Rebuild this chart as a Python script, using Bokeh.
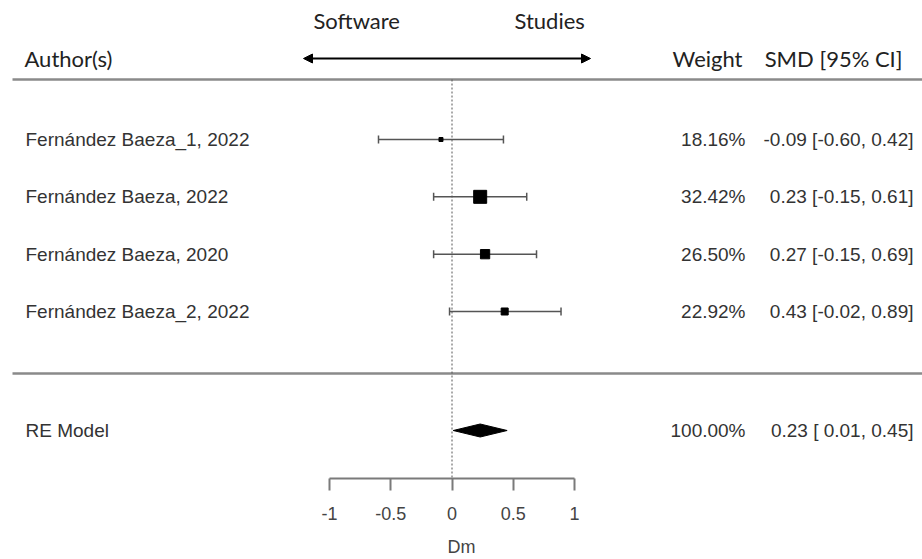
import numpy as np
from bokeh.plotting import figure
from bokeh.models import Range1d, LinearAxis, FixedTicker, Arrow, NormalHead, ColumnDataSource
from bokeh.core.properties import value
from bokeh.embed import file_html
from bokeh.resources import INLINE

# ---- data ----
studies = ["Fernández Baeza_1, 2022", "Fernández Baeza, 2022",
           "Fernández Baeza, 2020", "Fernández Baeza_2, 2022"]
smd = [-0.09, 0.23, 0.27, 0.43]
ci_lo = [-0.60, -0.15, -0.15, -0.02]
ci_hi = [0.42, 0.61, 0.69, 0.89]
weights = [18.16, 32.42, 26.50, 22.92]
rows = [4, 3, 2, 1]
re_label = "RE Model"
re_est, re_lo, re_hi, re_weight = 0.23, 0.01, 0.45, 100.00
ticks = [-1, -0.5, 0, 0.5, 1]

# ---- layout helpers (pixel -> data) ----
W, H = 922, 559
FRAME_H = 478
PX_PER_X = 122.5
X0_PX = 451.5
PX_PER_ROW = 57.33
ROW1_PX = 311


def px2x(px):
    return (px - X0_PX) / PX_PER_X


def py2y(py):
    return 1 + (ROW1_PX - py) / PX_PER_ROW


x_start, x_end = px2x(0), px2x(W)
y_lo, y_hi = py2y(FRAME_H), py2y(0)
re_row = py2y(430)

p = figure(width=W, height=H, output_backend="svg", toolbar_location=None,
           x_range=Range1d(x_start, x_end), y_range=Range1d(y_lo, y_hi),
           x_axis_location=None, y_axis_location=None,
           min_border_left=0, min_border_right=0, min_border_top=0,
           min_border_bottom=H - FRAME_H)
p.outline_line_color = None
p.grid.visible = False
p.background_fill_color = "white"

# axis
ax = LinearAxis(ticker=FixedTicker(ticks=ticks), bounds=(-1, 1), axis_label="Dm")
ax.major_label_overrides = {-1: "-1", -0.5: "-0.5", 0: "0", 0.5: "0.5", 1: "1"}
ax.axis_line_color = "#7a7a7a"
ax.axis_line_width = 2
ax.major_tick_line_color = "#7a7a7a"
ax.major_tick_line_width = 2
ax.major_tick_in = 0
ax.major_tick_out = 12
ax.minor_tick_line_color = None
ax.major_label_text_font = "Liberation Sans"
ax.major_label_text_font_size = "18px"
ax.major_label_text_color = "#444444"
ax.major_label_standoff = 16
ax.axis_label_text_font = "Liberation Sans"
ax.axis_label_text_font_size = "18px"
ax.axis_label_text_font_style = "normal"
ax.axis_label_text_color = "#444444"
ax.axis_label_standoff = 14
p.add_layout(ax, "below")

# separators
sep_top, sep_mid = py2y(79), py2y(373)
p.segment(x0=[px2x(12), px2x(12)], y0=[sep_top, sep_mid],
          x1=[x_end, x_end], y1=[sep_top, sep_mid],
          line_color="#8a8a8a", line_width=2.5)

# reference line at 0
p.segment(x0=[0], y0=[sep_top], x1=[0], y1=[y_lo], line_color="#555555",
          line_width=1, line_dash="2 2")

src = ColumnDataSource(dict(
    study=studies, smd=smd, lo=ci_lo, hi=ci_hi, w=weights, row=rows,
    size=[4 + 9 * (w - min(weights)) / (max(weights) - min(weights)) for w in weights],
    wlab=[f"{w:.2f}%" for w in weights],
    cilab=[f"{e:.2f} [{l:5.2f}, {h:.2f}]" for e, l, h in zip(smd, ci_lo, ci_hi)],
))
# CI whiskers
p.segment(x0="lo", y0="row", x1="hi", y1="row", source=src,
          line_color="#555555", line_width=1.5)
p.scatter(x="lo", y="row", source=src, marker="dash", angle=np.pi / 2,
          size=8, line_color="#555555", line_width=1.5)
p.scatter(x="hi", y="row", source=src, marker="dash", angle=np.pi / 2,
          size=8, line_color="#555555", line_width=1.5)
p.scatter(x="smd", y="row", source=src, marker="square", size="size",
          fill_color="black", line_color="black")

# RE diamond
dh = 6.5 / PX_PER_ROW
p.patch(x=[re_lo, re_est, re_hi, re_est],
        y=[re_row, re_row + dh, re_row, re_row - dh],
        fill_color="black", line_color="black")

body_font = value("Liberation Sans")
p.text(x=px2x(25), y="row", text="study", source=src, text_font=body_font,
       text_font_size="19px", text_color="#333333", text_baseline="middle",
       text_align="left")
p.text(x=px2x(745), y="row", text="wlab", source=src, text_font=body_font,
       text_font_size="19px", text_color="#333333", text_baseline="middle",
       text_align="right")
p.text(x=px2x(913), y="row", text="cilab", source=src, text_font=body_font,
       text_font_size="19px", text_color="#333333", text_baseline="middle",
       text_align="right")
p.text(x=[px2x(25), px2x(745), px2x(913)], y=[re_row] * 3,
       text=[re_label, f"{re_weight:.2f}%",
             f"{re_est:.2f} [{re_lo:5.2f}, {re_hi:.2f}]"],
       text_font=body_font, text_font_size="19px", text_color="#333333",
       text_baseline="middle", text_align=["left", "right", "right"])

# headers
hdr_font = value("Lato")
hdr_row = py2y(58)
p.text(x=[px2x(24)], y=[hdr_row], text=["Author(s)"], text_font=hdr_font,
       text_font_size="22px", text_color="#222222", text_baseline="middle",
       text_align="left")
p.text(x=[px2x(742)], y=[hdr_row], text=["Weight"], text_font=hdr_font,
       text_font_size="22px", text_color="#222222", text_baseline="middle",
       text_align="right")
p.text(x=[px2x(902)], y=[hdr_row], text=["SMD [95% CI]"], text_font=hdr_font,
       text_font_size="22px", text_color="#222222", text_baseline="middle",
       text_align="right")
lab_row = py2y(20)
p.text(x=[px2x(313), px2x(514)], y=[lab_row, lab_row], text=["Software", "Studies"],
       text_font=hdr_font, text_font_size="22px", text_color="#222222",
       text_baseline="middle", text_align="left")

# arrow
p.add_layout(Arrow(start=NormalHead(size=9, fill_color="black", line_color="black"),
                   end=NormalHead(size=9, fill_color="black", line_color="black"),
                   x_start=px2x(303), x_end=px2x(590), y_start=hdr_row, y_end=hdr_row,
                   line_color="black", line_width=2))

open("out.html", "w").write(file_html(p, INLINE))
